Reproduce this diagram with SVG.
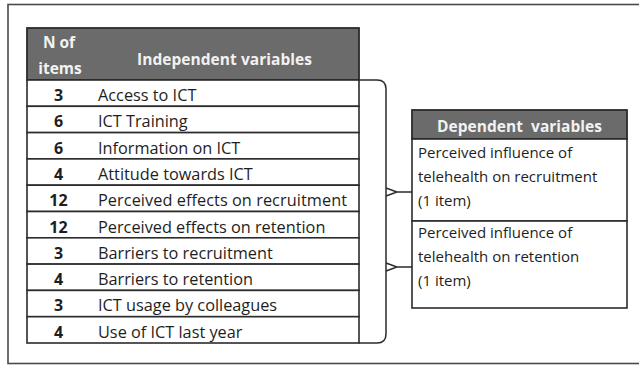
<svg xmlns="http://www.w3.org/2000/svg" width="639" height="366" viewBox="0 0 639 366">
<style>
.frame{fill:#fff;stroke:#4a4a4a;stroke-width:1.6}
.hdr{fill:#6b6b6b;stroke:#2b2b2b;stroke-width:1.8}
.cell{fill:#fff;stroke:#2b2b2b;stroke-width:1.6}
.ht{font-family:"Open Sans","Liberation Sans",sans-serif;font-weight:bold;font-size:15.5px;fill:#f2f2f2}
.num{font-family:"Open Sans","Liberation Sans",sans-serif;font-weight:bold;font-size:16px;fill:#1e1e1e;text-anchor:middle}
.txt{font-family:"Open Sans","Liberation Sans",sans-serif;font-size:16.3px;fill:#1e1e1e}
.dt{font-family:"Open Sans","Liberation Sans",sans-serif;font-size:15px;fill:#1e1e1e}
.conn{fill:none;stroke:#2b2b2b;stroke-width:1.5}
</style>
<rect class="frame" x="8" y="4.5" width="640" height="359"/>

<g id="independent-header">
<rect class="hdr" x="27" y="28" width="332" height="52"/>
<text class="ht" x="59" y="48" text-anchor="middle">N of</text>
<text class="ht" x="60" y="74" text-anchor="middle">items</text>
<text class="ht" x="137" y="65" textLength="175">Independent variables</text>
</g>

<g id="iv-access">
<rect class="cell" x="27" y="80" width="332" height="26.3"/>
<text class="num" x="58.5" y="101">3</text>
<text class="txt" x="98" y="101">Access to ICT</text>
</g>
<g id="iv-training">
<rect class="cell" x="27" y="106.3" width="332" height="26.3"/>
<text class="num" x="58.5" y="127.3">6</text>
<text class="txt" x="98" y="127.3">ICT Training</text>
</g>
<g id="iv-information">
<rect class="cell" x="27" y="132.6" width="332" height="26.3"/>
<text class="num" x="58.5" y="153.6">6</text>
<text class="txt" x="98" y="153.6">Information on ICT</text>
</g>
<g id="iv-attitude">
<rect class="cell" x="27" y="158.9" width="332" height="26.3"/>
<text class="num" x="58.5" y="179.9">4</text>
<text class="txt" x="98" y="179.9">Attitude towards ICT</text>
</g>
<g id="iv-effects-recruitment">
<rect class="cell" x="27" y="185.2" width="332" height="26.3"/>
<text class="num" x="58.5" y="206.2">12</text>
<text class="txt" x="98" y="206.2" textLength="249">Perceived effects on recruitment</text>
</g>
<g id="iv-effects-retention">
<rect class="cell" x="27" y="211.5" width="332" height="26.3"/>
<text class="num" x="58.5" y="232.5">12</text>
<text class="txt" x="98" y="232.5">Perceived effects on retention</text>
</g>
<g id="iv-barriers-recruitment">
<rect class="cell" x="27" y="237.8" width="332" height="26.3"/>
<text class="num" x="58.5" y="258.8">3</text>
<text class="txt" x="98" y="258.8">Barriers to recruitment</text>
</g>
<g id="iv-barriers-retention">
<rect class="cell" x="27" y="264.1" width="332" height="26.3"/>
<text class="num" x="58.5" y="285.1">4</text>
<text class="txt" x="98" y="285.1">Barriers to retention</text>
</g>
<g id="iv-usage-colleagues">
<rect class="cell" x="27" y="290.4" width="332" height="26.3"/>
<text class="num" x="58.5" y="311.4">3</text>
<text class="txt" x="98" y="311.4">ICT usage by colleagues</text>
</g>
<g id="iv-use-last-year">
<rect class="cell" x="27" y="316.7" width="332" height="26.3"/>
<text class="num" x="58.5" y="337.7">4</text>
<text class="txt" x="98" y="337.7">Use of ICT last year</text>
</g>

<g id="dependent-header">
<rect class="hdr" x="412" y="110" width="215" height="29"/>
<text class="ht" x="437" y="131.5" textLength="165" xml:space="preserve">Dependent  variables</text>
</g>
<g id="dv-recruitment">
<rect class="cell" x="412" y="139" width="215" height="82"/>
<text class="dt" x="418" y="158">Perceived influence of</text>
<text class="dt" x="418" y="182">telehealth on recruitment</text>
<text class="dt" x="418" y="206">(1 item)</text>
</g>
<g id="dv-retention">
<rect class="cell" x="412" y="221" width="215" height="87"/>
<text class="dt" x="418" y="238">Perceived influence of</text>
<text class="dt" x="418" y="262">telehealth on retention</text>
<text class="dt" x="418" y="286">(1 item)</text>
</g>

<g id="connectors">
<path class="conn" d="M359,80 H377 Q386,80 386,89 V334 Q386,343 377,343 H359"/>
<path class="conn" d="M386,188 L397,192 L386,196 M397,192 H412"/>
<path class="conn" d="M386,263 L397,267 L386,271 M397,267 H412"/>
</g>
</svg>
